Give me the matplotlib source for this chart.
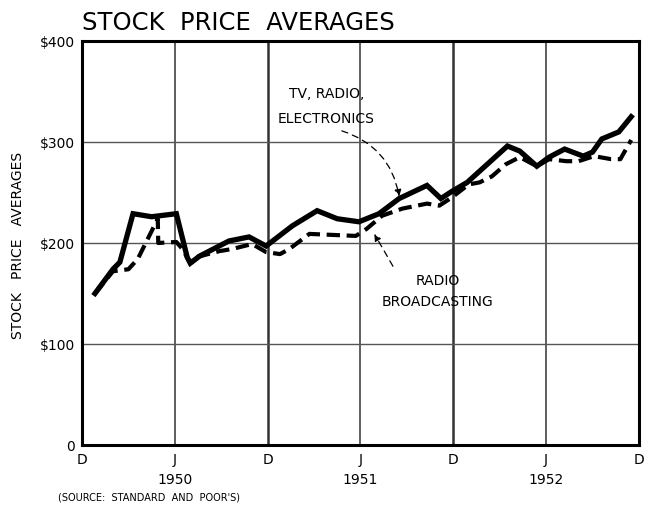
import matplotlib
matplotlib.use("Agg")
import matplotlib.pyplot as plt
from matplotlib.transforms import blended_transform_factory

# months counted from Dec 1949 (0) to Dec 1952 (36)
tv_months = [0.84, 2.0, 2.45, 3.3, 4.5, 6.1, 6.8, 7.0, 7.6, 9.5, 10.8, 11.9,
             13.6, 15.2, 16.5, 17.9, 19.2, 20.5, 22.3, 23.2, 23.9, 24.9,
             27.5, 28.3, 29.4, 30.2, 31.2, 32.4, 33.0, 33.6, 34.7, 35.5]
tv_values = [150, 174, 181, 229, 226, 229, 186, 180, 187, 202, 206, 197,
             217, 232, 224, 221, 229, 244, 257, 244, 251, 260,
             296, 291, 276, 285, 293, 286, 290, 303, 310, 325]

radio_months = [0.84, 2.0, 3.0, 3.6, 4.9, 4.93, 6.1, 6.5, 7.0, 7.4, 8.9, 9.7,
                11.0, 11.9, 12.8, 13.4, 14.7, 17.7, 18.4, 19.4, 20.7, 22.3,
                23.1, 23.9, 25.0, 25.7, 26.5, 27.4, 28.3, 29.4, 30.2, 31.3,
                32.1, 33.1, 34.2, 34.8, 35.5]
radio_values = [150, 172, 174, 184, 224, 200, 201, 194, 180, 186, 192, 194,
                199, 191, 189, 194, 209, 207, 214, 227, 234, 239,
                237, 245, 258, 260, 266, 278, 285, 276, 283, 281,
                281, 286, 283, 283, 302]

x_ticks = [0, 6, 12, 18, 24, 30, 36]
x_labels = ["D", "J", "D", "J", "D", "J", "D"]
years = ["1950", "1951", "1952"]
year_pos = [6, 18, 30]
y_ticks = [0, 100, 200, 300, 400]
y_labels = ["0", "$100", "$200", "$300", "$400"]

fig = plt.figure(figsize=(6.48, 5.06), dpi=100)
ax = fig.add_axes([0.1265, 0.1186, 0.8595, 0.7984])

# grid
for x in x_ticks[1:-1]:
    lw = 1.8 if x % 12 == 0 else 1.1
    ax.axvline(x, color="#333333", lw=lw, zorder=1)
for y in y_ticks[1:-1]:
    ax.axhline(y, color="#555555", lw=1.0, zorder=1)

ax.plot(tv_months, tv_values, color="black", lw=3.8,
        solid_joinstyle="miter", zorder=3)
ax.plot(radio_months, radio_values, color="black", lw=3.0,
        dashes=(3.2, 1.6), zorder=3)

ax.set_xlim(0, 36)
ax.set_ylim(0, 400)
ax.set_xticks(x_ticks)
ax.set_xticklabels(x_labels, fontsize=10)
ax.set_yticks(y_ticks)
ax.set_yticklabels(y_labels, fontsize=10)
ax.tick_params(length=0, pad=5)
for s in ax.spines.values():
    s.set_linewidth(2.2)

trans = blended_transform_factory(ax.transData, fig.transFigure)
for yr, p in zip(years, year_pos):
    ax.text(p, 0.051, yr, transform=trans, ha="center", va="center", fontsize=10)

fig.text(0.09, 0.016, "(SOURCE:  STANDARD  AND  POOR'S)", fontsize=7,
         ha="left", va="center")
fig.text(0.127, 0.955, "STOCK  PRICE  AVERAGES", fontsize=17.5,
         ha="left", va="center")
fig.text(0.028, 0.515, "STOCK   PRICE   AVERAGES", fontsize=10,
         rotation=90, ha="center", va="center")

# labels and pointer arrows
ax.text(15.8, 336, "TV, RADIO,\nELECTRONICS", ha="center", va="center",
        fontsize=10, linespacing=2.0)
ax.annotate("", xy=(20.5, 246), xytext=(16.8, 311),
            arrowprops=dict(arrowstyle="-|>", color="black", lw=0.9,
                            linestyle=(0, (5, 4)), shrinkA=0, shrinkB=0,
                            connectionstyle="arc3,rad=-0.3"))
ax.text(23.0, 153, "RADIO\nBROADCASTING", ha="center", va="center",
        fontsize=10, linespacing=1.6)
ax.annotate("", xy=(18.9, 209), xytext=(20.1, 177),
            arrowprops=dict(arrowstyle="-|>", color="black", lw=0.9,
                            linestyle=(0, (5, 4)), shrinkA=0, shrinkB=0))

fig.savefig("out.png", dpi=100)
